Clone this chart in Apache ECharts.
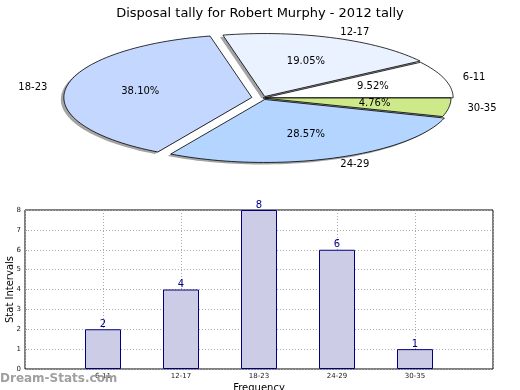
<!DOCTYPE html>
<html><head><meta charset="utf-8">
<script src="https://cdn.jsdelivr.net/npm/echarts@6/dist/echarts.min.js"></script>
<style>html,body{margin:0;padding:0;background:#fff}#c{width:520px;height:390px}</style>
</head><body><div id="c"></div>
<script>
const title = 'Disposal tally for Robert Murphy - 2012 tally';
const categories = ['6-11', '12-17', '18-23', '24-29', '30-35'];
const values = [2, 4, 8, 6, 1];
const yAxisName = 'Stat Intervals';
const xAxisName = 'Frequency';
const watermark = 'Dream-Stats.com';

const pieColors = ['#ffffff', '#eaf1ff', '#c4d8ff', '#b3d5ff', '#cde98a'];
const explode = [0.012, 0.025, 0.06, 0.025, 0];
const PIE = {cx: 263, cy: 98, rx: 188, ry: 63};
const total = values.reduce((a, b) => a + b, 0);

function sliceGeom(i) {
  let start = 0;
  for (let k = 0; k < i; k++) start += values[k] / total * 360;
  const end = start + values[i] / total * 360;
  const mid = (start + end) / 2 * Math.PI / 180;
  const ox = explode[i] * PIE.rx * Math.cos(mid);
  const oy = -explode[i] * PIE.ry * Math.sin(mid);
  const cx = PIE.cx + ox, cy = PIE.cy + oy;
  const pts = [[cx, cy]];
  const n = Math.max(4, Math.ceil((end - start) / 2));
  for (let s = 0; s <= n; s++) {
    const t = (start + (end - start) * s / n) * Math.PI / 180;
    pts.push([cx + PIE.rx * Math.cos(t), cy - PIE.ry * Math.sin(t)]);
  }
  return {pts, mid, cx, cy};
}

const chart = echarts.init(document.getElementById('c'), null, {renderer: 'canvas'});
const font = 'DejaVu Sans';
chart.setOption({
  animation: false,
  textStyle: {fontFamily: font},
  title: {text: title, left: 'center', top: 2, textStyle: {fontFamily: font, fontSize: 13, fontWeight: 'normal', color: '#000'}},
  graphic: [{type: 'text', left: 0, top: 373, z: 100, style: {text: watermark, fill: '#a0a0a0', font: 'bold 12px "DejaVu Sans"'}}],
  grid: {left: 25, right: 27, top: 210, bottom: 21, containLabel: false, outerBoundsMode: 'none',
    show: true, borderColor: '#000', borderWidth: 1, backgroundColor: '#fff'},
  xAxis: {
    type: 'value', min: 0, max: categories.length + 1, interval: 1,
    name: xAxisName, nameLocation: 'middle', nameGap: 14, nameMoveOverlap: false,
    nameTextStyle: {fontSize: 10, color: '#000'},
    axisLine: {show: false}, axisTick: {show: false},
    axisLabel: {fontSize: 7, color: '#222', margin: 4, formatter: v => (v >= 1 && v <= categories.length) ? categories[v - 1] : ''},
    splitLine: {show: true, lineStyle: {type: [1, 2], color: '#aaa'}}
  },
  yAxis: {
    type: 'value', min: 0, max: 8, interval: 1,
    name: yAxisName, nameLocation: 'middle', nameGap: 10, nameMoveOverlap: false,
    nameTextStyle: {fontSize: 10, color: '#000'},
    axisLine: {show: false}, axisTick: {show: true, inside: true, length: 2, lineStyle: {color: '#999'}},
    axisLabel: {fontSize: 7, color: '#222', margin: 4},
    splitLine: {show: true, lineStyle: {type: [1, 2], color: '#aaa'}}
  },
  series: [
    {
      type: 'bar', barWidth: 36,
      data: values.map((v, i) => [i + 1, v]),
      itemStyle: {color: '#ccccE6', borderColor: '#000080', borderWidth: 1},
      label: {show: true, position: 'top', distance: 0, color: '#00008b', fontSize: 10},
      z: 3
    },
    {
      type: 'custom', coordinateSystem: 'none', silent: true, z: 1,
      data: values,
      renderItem: function (params, api) {
        const g = sliceGeom(params.dataIndex);
        return {type: 'polygon', shape: {points: g.pts.map(p => [p[0] - 3, p[1] + 2])},
          style: {fill: 'rgba(90,90,90,0.55)'}};
      }
    },
    {
      type: 'custom', coordinateSystem: 'none', silent: true, z: 2,
      data: values,
      renderItem: function (params, api) {
        const i = params.dataIndex;
        const g = sliceGeom(i);
        const c = Math.cos(g.mid), s = Math.sin(g.mid);
        const pct = (values[i] / total * 100).toFixed(2) + '%';
        return {type: 'group', children: [
          {type: 'polygon', shape: {points: g.pts}, style: {fill: pieColors[i], stroke: '#000', lineWidth: 0.8}},
          {type: 'text', style: {text: pct, x: g.cx + 0.6 * PIE.rx * c, y: g.cy - 0.6 * PIE.ry * s,
            align: 'center', verticalAlign: 'middle', fill: '#000', font: '10px "DejaVu Sans"'}},
          {type: 'text', style: {text: categories[i], x: g.cx + 1.1 * PIE.rx * c, y: g.cy - 1.1 * PIE.ry * s,
            align: c >= 0 ? 'left' : 'right', verticalAlign: 'middle', fill: '#000', font: '10px "DejaVu Sans"'}}
        ]};
      }
    }
  ]
});
</script></body></html>
